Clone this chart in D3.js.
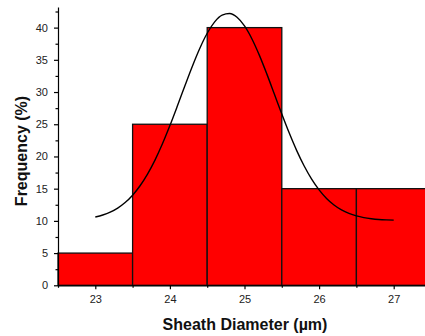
<!DOCTYPE html>
<html>
<head>
<meta charset="utf-8">
<script src="https://cdn.jsdelivr.net/npm/d3@7"></script>
<style>
    body { margin: 0; background: #fff; }
    #wrapper { width: 425px; height: 336px; overflow: hidden; }
    .tick text { font-family: Arial, "Liberation Sans", sans-serif; font-size: 11px; fill: #222; }
    .axis-title { font-family: Arial, "Liberation Sans", sans-serif; font-weight: bold; font-size: 16px; fill: #111; }
</style>
</head>
<body>
<div id="wrapper"></div>
<script>
// histogram bins (sheath diameter, µm) and frequency (%)
const binStarts = [22.5, 23.5, 24.5, 25.5, 26.5]
const binEnds = [23.5, 24.5, 25.5, 26.5, 27.5]
const frequencies = [5, 25, 40, 15, 15]

// fitted curve
const fitX = [23.0, 23.1, 23.2, 23.3, 23.4, 23.5, 23.6, 23.7, 23.8, 23.9,
    24.0, 24.1, 24.2, 24.3, 24.4, 24.5, 24.6, 24.7, 24.8, 24.9,
    25.0, 25.1, 25.2, 25.3, 25.4, 25.5, 25.6, 25.7, 25.8, 25.9,
    26.0, 26.1, 26.2, 26.3, 26.4, 26.5, 26.6, 26.7, 26.8, 26.9, 27.0]
const fitY = [10.60, 10.91, 11.36, 11.99, 12.85, 13.99, 15.45, 17.26, 19.43, 21.96,
    24.79, 27.82, 30.94, 33.98, 36.77, 39.13, 40.89, 41.94, 42.18, 41.61,
    40.26, 38.24, 35.69, 32.78, 29.69, 26.59, 23.63, 20.91, 18.52, 16.49,
    14.82, 13.49, 12.47, 11.71, 11.16, 10.77, 10.51, 10.34, 10.22, 10.15, 10.11]

const xTicks = [23, 24, 25, 26, 27]
const xMinorTicks = [22.5, 23.5, 24.5, 25.5, 26.5, 27.5]
const yTicks = [0, 5, 10, 15, 20, 25, 30, 35, 40]
const yMinorTicks = [2.5, 7.5, 12.5, 17.5, 22.5, 27.5, 32.5, 37.5, 42.5]

function drawHistogram() {
    let dimensions = {
        width: 425,
        height: 336,
        margin: { top: 7, right: 0, bottom: 50.7, left: 58 },
    }
    dimensions.boundedWidth = 373
    dimensions.boundedHeight = dimensions.height - dimensions.margin.top - dimensions.margin.bottom

    const wrapper = d3.select("#wrapper")
        .append("svg")
        .attr("width", dimensions.width)
        .attr("height", dimensions.height)

    const bounds = wrapper.append("g")
        .attr("transform", `translate(${dimensions.margin.left}, ${dimensions.margin.top})`)

    const xScale = d3.scaleLinear()
        .domain([22.5, 27.5])
        .range([0, dimensions.boundedWidth])

    const yScale = d3.scaleLinear()
        .domain([0, 43.2])
        .range([dimensions.boundedHeight, 0])

    // bars
    bounds.selectAll(".bar")
        .data(frequencies)
        .enter().append("rect")
        .attr("class", "bar")
        .attr("x", (d, i) => xScale(binStarts[i]))
        .attr("width", (d, i) => xScale(binEnds[i]) - xScale(binStarts[i]))
        .attr("y", d => yScale(d))
        .attr("height", d => yScale(0) - yScale(d))
        .attr("fill", "#ff0000")
        .attr("stroke", "#111")
        .attr("stroke-width", 1.3)

    // fit curve
    const lineGenerator = d3.line()
        .x((d, i) => xScale(fitX[i]))
        .y(d => yScale(d))
        .curve(d3.curveMonotoneX)

    bounds.append("path")
        .attr("d", lineGenerator(fitY))
        .attr("fill", "none")
        .attr("stroke", "#000")
        .attr("stroke-width", 1.4)

    // axes
    bounds.append("g")
        .call(d3.axisLeft(yScale).tickValues(yTicks).tickSize(4).tickSizeOuter(0).tickPadding(6))
    bounds.append("g")
        .call(d3.axisLeft(yScale).tickValues(yMinorTicks).tickSize(2.5).tickSizeOuter(0).tickFormat(""))
        .select(".domain").remove()

    bounds.append("g")
        .attr("transform", `translate(0, ${dimensions.boundedHeight})`)
        .call(d3.axisBottom(xScale).tickValues(xTicks).tickFormat(d3.format("d"))
            .tickSize(4).tickSizeOuter(0).tickPadding(6))
    bounds.append("g")
        .attr("transform", `translate(0, ${dimensions.boundedHeight})`)
        .call(d3.axisBottom(xScale).tickValues(xMinorTicks).tickSize(2.5).tickSizeOuter(0).tickFormat(""))
        .select(".domain").remove()

    wrapper.selectAll(".domain, .tick line")
        .attr("stroke", "#000")
        .attr("stroke-width", 1.2)

    // axis titles
    wrapper.append("text")
        .attr("class", "axis-title")
        .attr("x", 245)
        .attr("y", 330)
        .attr("text-anchor", "middle")
        .text("Sheath Diameter (µm)")

    wrapper.append("text")
        .attr("class", "axis-title")
        .attr("transform", "translate(27, 151) rotate(-90)")
        .attr("text-anchor", "middle")
        .text("Frequency  (%)")
}
drawHistogram()
</script>
</body>
</html>
